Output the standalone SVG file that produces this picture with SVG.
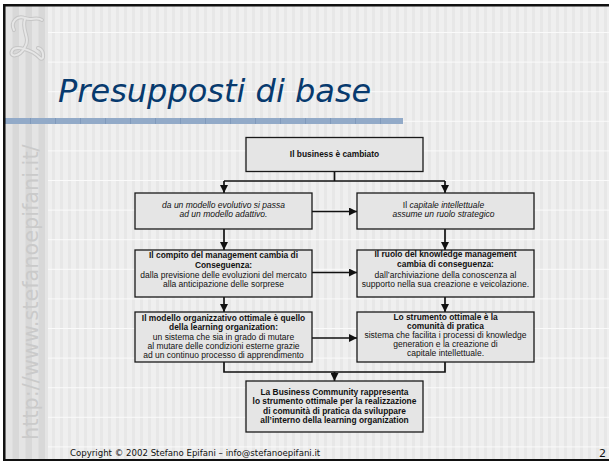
<svg xmlns="http://www.w3.org/2000/svg" width="609" height="461" viewBox="0 0 609 461">
<style>
.box{fill:#e5e5e5;stroke:#1a1a1a;stroke-width:1.3}
.t{font-family:"Liberation Sans",Arial,sans-serif;font-size:8.5px;fill:#111;text-anchor:middle}
.b{font-weight:bold;font-size:8.4px}
.i{font-style:italic}
.con{fill:none;stroke:#111;stroke-width:1.7}
</style>
<defs>
<pattern id="bg" x="0" y="0" width="8" height="20" patternUnits="userSpaceOnUse">
<rect width="8" height="20" fill="#efefef"/>
<rect x="4" width="3" height="20" fill="#e7e7e7"/>
</pattern>
<pattern id="hl" x="0" y="32" width="609" height="29.6" patternUnits="userSpaceOnUse">
<rect width="609" height="1" fill="#fafafa"/>
</pattern>
<pattern id="strip" x="6" y="0" width="13" height="20" patternUnits="userSpaceOnUse">
<rect width="13" height="20" fill="#e4e4e4"/>
<rect x="6.5" width="6.5" height="20" fill="#d8d8d8"/>
</pattern>
<marker id="ah" viewBox="0 0 8 8" refX="8" refY="4" markerWidth="8" markerHeight="8" markerUnits="userSpaceOnUse" orient="auto">
<path d="M0,0 L8,4 L0,8 z" fill="#111"/>
</marker>
</defs>

<g id="slide">
<rect width="609" height="461" fill="#ffffff"/>
<rect x="5" y="6" width="604" height="453" fill="url(#bg)"/>
<rect x="5" y="6" width="604" height="453" fill="url(#hl)"/>
<rect x="5" y="6" width="43" height="453" fill="url(#strip)"/>
<rect x="5" y="118" width="398" height="6" fill="#92aac8"/>
<line x1="5" y1="121" x2="403" y2="121" stroke="#7f99bb" stroke-width="6" stroke-dasharray="1 24"/>
<rect x="3" y="4" width="606" height="2.5" fill="#111"/>
<rect x="3" y="4" width="2.5" height="457" fill="#111"/>
<rect x="3" y="459" width="606" height="2" fill="#111"/>
<g id="logo" fill="none" stroke-linecap="round">
<path d="M14,30 C10,22 17,15 25,18 C31,21 37,16 42,20 M25,19 C21,30 31,38 25,47 C19,58 9,57 12,51 C15,45 31,49 40,58 C44,62 45,50 38,48" stroke="#c6c6c6" stroke-width="4"/>
<path d="M14,30 C10,22 17,15 25,18 C31,21 37,16 42,20 M25,19 C21,30 31,38 25,47 C19,58 9,57 12,51 C15,45 31,49 40,58 C44,62 45,50 38,48" stroke="#e6e6e6" stroke-width="2"/>
</g>
<text x="58" y="101.5" font-family="'DejaVu Sans',Verdana,sans-serif" font-style="italic" font-size="32" fill="#073a6e">Presupposti di base</text>
<text transform="translate(37.5,440) rotate(-90)" font-family="'DejaVu Sans',Verdana,sans-serif" font-size="20.8" fill="#cacaca">http://www.stefanoepifani.it/</text>
<text x="70" y="456" font-family="'DejaVu Sans',Verdana,sans-serif" font-size="8.6" fill="#111">Copyright © 2002 Stefano Epifani – info@stefanoepifani.it</text>
<text x="606" y="457" font-family="'DejaVu Sans',Verdana,sans-serif" font-size="11" fill="#111" text-anchor="end">2</text>
</g>

<g id="connectors">
<path class="con" d="M334.5,171.5 V181 M224,181 H445"/>
<path class="con" d="M224,181 V193" marker-end="url(#ah)"/>
<path class="con" d="M445,181 V193" marker-end="url(#ah)"/>
<path class="con" d="M312,211.5 H357" marker-end="url(#ah)"/>
<path class="con" d="M224,229 V250" marker-end="url(#ah)"/>
<path class="con" d="M445,229 V250" marker-end="url(#ah)"/>
<path class="con" d="M312,272.5 H357" marker-end="url(#ah)"/>
<path class="con" d="M224,297 V312" marker-end="url(#ah)"/>
<path class="con" d="M445,297 V312" marker-end="url(#ah)"/>
<path class="con" d="M312,338 H357" marker-end="url(#ah)"/>
<path class="con" d="M224,362 V372 H445 V362"/>
<path class="con" d="M334.5,372 V381" marker-end="url(#ah)"/>
</g>

<g id="n-business">
<rect class="box" x="246" y="137.5" width="177" height="34"/>
<text class="t b" x="334.5" y="157.3">Il business è cambiato</text>
</g>

<g id="n-modello-adattivo">
<rect class="box" x="135" y="193" width="177" height="36"/>
<text class="t i" x="223.5" y="207.5">da un modello  evolutivo si passa</text>
<text class="t i" x="223.5" y="216.9">ad un modello adattivo.</text>
</g>

<g id="n-capitale">
<rect class="box" x="357" y="193" width="177" height="36"/>
<text class="t" x="443.5" y="208"><tspan>Il </tspan><tspan font-style="italic">capitale intellettuale</tspan></text>
<text class="t i" x="443.5" y="217.2">assume un ruolo strategico</text>
</g>

<g id="n-management">
<rect class="box" x="135" y="250" width="177" height="47"/>
<text class="t b" x="223.5" y="258.3">Il compito del management cambia di</text>
<text class="t b" x="223.5" y="267.6">Conseguenza:</text>
<text class="t" x="223.5" y="278.2">dalla previsione delle evoluzioni del mercato</text>
<text class="t" x="223.5" y="287.4">alla anticipazione delle sorprese</text>
</g>

<g id="n-knowledge">
<rect class="box" x="357" y="250" width="177" height="47"/>
<text class="t b" x="445.5" y="257">Il ruolo del knowledge management</text>
<text class="t b" x="445.5" y="266.5">cambia di conseguenza:</text>
<text class="t" x="445.5" y="277.8">dall’archiviazione della conoscenza al</text>
<text class="t" x="445.5" y="287.3">supporto nella sua creazione e veicolazione.</text>
</g>

<g id="n-learning">
<rect class="box" x="135" y="312" width="177" height="50"/>
<text class="t b" x="223.5" y="321">Il modello organizzativo ottimale è quello</text>
<text class="t b" x="223.5" y="330.4">della learning organization:</text>
<text class="t" x="223.5" y="339.8">un sistema che sia in grado di mutare</text>
<text class="t" x="223.5" y="349">al mutare delle condizioni esterne grazie</text>
<text class="t" x="223.5" y="358.4">ad un continuo processo di apprendimento</text>
</g>

<g id="n-comunita">
<rect class="box" x="357" y="312" width="177" height="50"/>
<text class="t b" x="445.5" y="319.5">Lo strumento ottimale è la</text>
<text class="t b" x="445.5" y="328.6">comunità di pratica</text>
<text class="t" x="445.5" y="337.9">sistema che facilita i  processi di knowledge</text>
<text class="t" x="445.5" y="347.1">generation e la creazione di</text>
<text class="t" x="445.5" y="356.4">capitale intellettuale.</text>
</g>

<g id="n-business-community">
<rect class="box" x="246" y="381" width="177" height="51"/>
<text class="t b" x="334.5" y="394.5">La Business Community rappresenta</text>
<text class="t b" x="334.5" y="404">lo strumento ottimale per la realizzazione</text>
<text class="t b" x="334.5" y="413.6">di comunità di pratica da sviluppare</text>
<text class="t b" x="334.5" y="423.2">all’interno della learning organization</text>
</g>
</svg>
